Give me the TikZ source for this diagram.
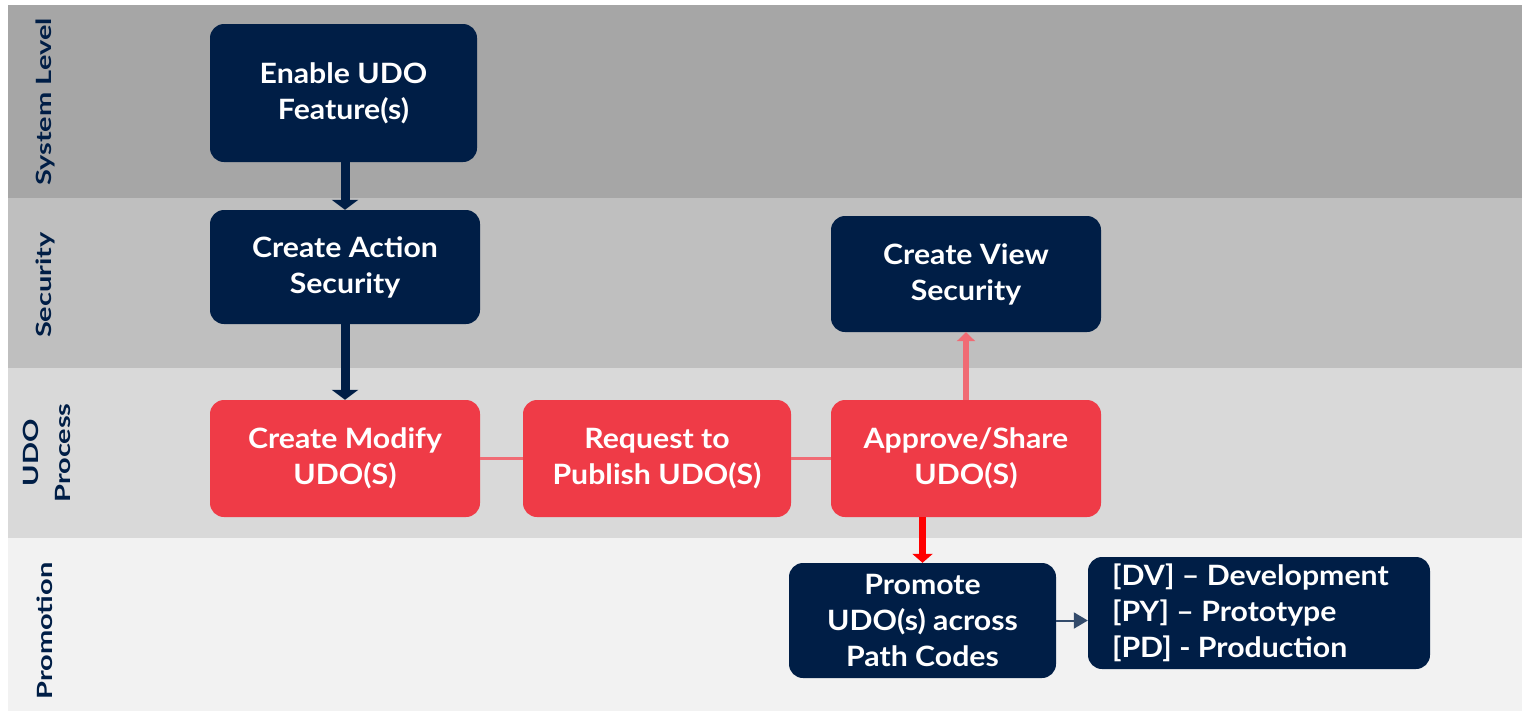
\documentclass[tikz,border=0pt]{standalone}
\usepackage{fontspec}
\setmainfont{Lato}[FakeStretch=1.08]
\newfontfamily\lanefont{Lato}[FakeStretch=1.38]
\usetikzlibrary{arrows.meta}
\definecolor{navy}{HTML}{001E46}
\definecolor{boxred}{HTML}{EF3B47}
\definecolor{linkred}{HTML}{F06B74}
\definecolor{brightred}{HTML}{FF0000}
\definecolor{laneA}{HTML}{A6A6A6}
\definecolor{laneB}{HTML}{BFBFBF}
\definecolor{laneC}{HTML}{D9D9D9}
\definecolor{laneD}{HTML}{F2F2F2}
\tikzset{
  box/.style={rounded corners=14pt, inner sep=0pt, text=white, align=center,
    font=\fontsize{28}{36}\selectfont\bfseries},
  navybox/.style={box, fill=navy},
  redbox/.style={box, fill=boxred},
  lanelabel/.style={rotate=90, text=navy, align=center, font=\lanefont\fontsize{21}{32}\selectfont\bfseries},
  navyarrow/.style={draw=navy, line width=9pt, -{Triangle[width=26pt,length=10pt]}},
  uparrow/.style={draw=linkred, line width=6pt, -{Triangle[width=18pt,length=9pt]}},
  downarrow/.style={draw=brightred, line width=7pt, -{Triangle[width=20pt,length=9pt]}},
  link/.style={draw=linkred, line width=3pt},
  thinarrow/.style={draw=navy!80, line width=2pt, -{Triangle[width=16pt,length=14pt]}}
}
\begin{document}
\begin{tikzpicture}[x=1pt,y=-1pt]
\useasboundingbox (0,0) rectangle (1522,713);
\fill[white] (0,0) rectangle (1522,713);
% lanes
\fill[laneA] (8,5) rectangle (1522,198);
\fill[laneB] (8,198) rectangle (1522,368);
\fill[laneC] (8,368) rectangle (1522,538);
\fill[laneD] (8,538) rectangle (1522,711);
% lane labels
\node[lanelabel] (lsys) at (45,102) {System Level};
\node[lanelabel] (lsec) at (45,285) {Security};
\node[lanelabel] (ludo) at (47,453) {UDO\\Process};
\node[lanelabel] (lpro) at (45,631) {Promotion};
% boxes
\node[navybox, minimum width=267pt, minimum height=138pt] (enable) at (343.5,93) {Enable UDO\\Feature(s)};
\node[navybox, minimum width=270pt, minimum height=114pt] (action) at (345,267) {Create Action\\Security};
\node[navybox, minimum width=270pt, minimum height=116pt] (view) at (966,274) {Create View\\Security};
\node[redbox, minimum width=270pt, minimum height=117pt] (modify) at (345,458.5) {Create Modify\\UDO(S)};
\node[redbox, minimum width=268pt, minimum height=117pt] (request) at (657,458.5) {Request to\\Publish UDO(S)};
\node[redbox, minimum width=270pt, minimum height=117pt] (approve) at (966,458.5) {Approve/Share\\UDO(S)};
\node[navybox, minimum width=267pt, minimum height=115pt] (promote) at (922.5,620.5) {Promote\\UDO(s) across\\Path Codes};
\node[navybox, minimum width=342pt, minimum height=112pt] (codes) at (1259,613) {};
\node[box, align=left, anchor=west] (codestext) at ([xshift=24pt]codes.west) {{[DV]} – Development\\{[PY]} – Prototype\\{[PD]} - Production};
% connectors
\draw[navyarrow] (enable.south -| action.north) -- (action.north);
\draw[navyarrow] (action.south) -- (modify.north);
\draw[link] (modify.east) -- (request.west);
\draw[link] (request.east) -- (approve.west);
\draw[uparrow] (approve.north) -- (view.south);
\draw[downarrow] (approve.south -| promote.north) -- (promote.north);
\draw[thinarrow] (promote.east) -- (codes.west |- promote.east);
\end{tikzpicture}
\end{document}
